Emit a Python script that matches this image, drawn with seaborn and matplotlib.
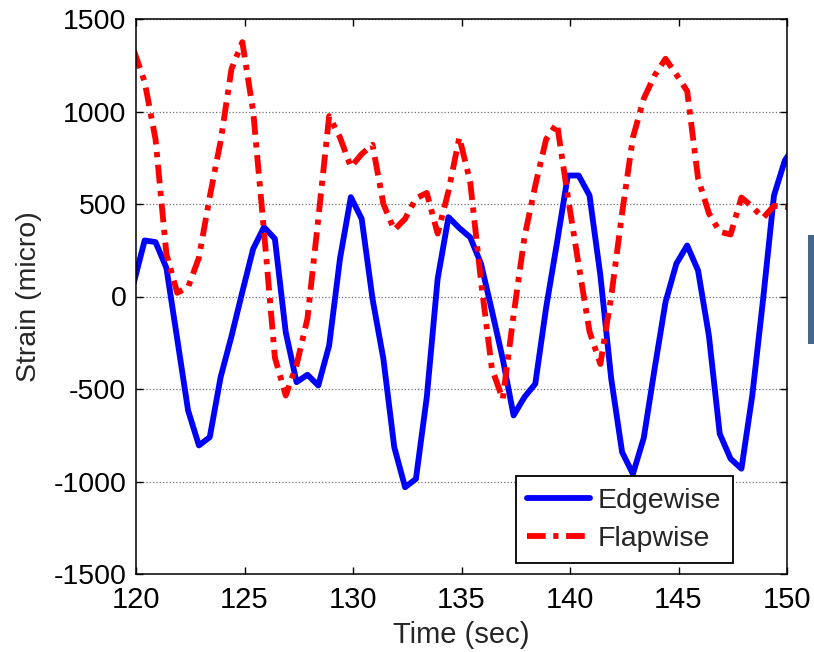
import numpy as np
import pandas as pd
import matplotlib
matplotlib.use("Agg")
import matplotlib.pyplot as plt
from matplotlib import font_manager
from matplotlib.patches import Rectangle
import seaborn as sns

# Sample times (sec)
time = [119.9, 120.4, 120.9, 121.4, 121.9, 122.4, 122.9, 123.4, 123.9, 124.4,
        124.9, 125.4, 125.9, 126.4, 126.9, 127.4, 127.9, 128.4, 128.9, 129.4,
        129.9, 130.4, 130.9, 131.4, 131.9, 132.4, 132.9, 133.4, 133.9, 134.4,
        134.9, 135.4, 135.9, 136.4, 136.9, 137.4, 137.9, 138.4, 138.9, 139.4,
        139.9, 140.4, 140.9, 141.4, 141.9, 142.4, 142.9, 143.4, 143.9, 144.4,
        144.9, 145.4, 145.9, 146.4, 146.9, 147.4, 147.9, 148.4, 148.9, 149.4,
        149.9, 150.4]

# Edgewise strain (micro)
edgewise = [75, 303, 294, 155, -230, -616, -805, -760, -436, -215,
            25, 258, 375, 312, -193, -463, -423, -481, -265, 204,
            537, 420, -13, -337, -814, -1031, -986, -544, 95, 429,
            370, 320, 177, -76, -337, -643, -544, -472, -60, 290,
            654, 654, 546, 114, -445, -841, -959, -764, -390, -31,
            177, 276, 141, -211, -742, -877, -931, -535, -13, 546,
            735, 820]

# Flapwise strain (micro)
flapwise = [1330, 1160, 850, 230, 20, 50, 210, 540, 840, 1230,
            1375, 1000, 350, -330, -535, -370, -120, 420, 975, 860,
            700, 770, 820, 500, 360, 420, 530, 560, 340, 570,
            860, 620, 80, -390, -555, -100, 320, 600, 850, 935,
            540, 170, -190, -365, 0, 450, 860, 1070, 1195, 1285,
            1200, 1110, 640, 450, 350, 335, 535, 485, 425, 490,
            485, 480]

series_names = ["Edgewise", "Flapwise"]
x_ticks = [120, 125, 130, 135, 140, 145, 150]
y_ticks = [-1500, -1000, -500, 0, 500, 1000, 1500]

df = pd.DataFrame({"Time": time, "Edgewise": edgewise, "Flapwise": flapwise})
long_df = df.melt(id_vars="Time", var_name="Signal", value_name="Strain")

sns.set_style("ticks")
plt.rcParams["font.family"] = ["Liberation Sans", "DejaVu Sans"]
plt.rcParams["axes.linewidth"] = 1.1

# Condensed face for the time axis texts, if available
installed = {f.name for f in font_manager.fontManager.ttflist}
if "Liberation Sans Narrow" in installed:
    x_font = dict(family="Liberation Sans Narrow", size=23.5)
else:
    x_font = dict(family="Liberation Sans", size=21)

fig = plt.figure(figsize=(8.14, 6.52), dpi=100)
ax = fig.add_axes([136 / 814, 1 - 574 / 652, (787 - 136) / 814, (574 - 19) / 652])

sns.lineplot(
    data=long_df, x="Time", y="Strain", hue="Signal", style="Signal",
    hue_order=series_names, style_order=series_names,
    palette={"Edgewise": "#0000ff", "Flapwise": "#ff0000"},
    dashes={"Edgewise": "", "Flapwise": (3.2, 1.3, 0.9, 1.3)},
    estimator=None, sort=False, linewidth=4.2, legend=False, ax=ax,
)
for ln in ax.get_lines():
    ln.set_solid_joinstyle("round")
    ln.set_dash_capstyle("butt")

ax.set_xlim(120, 150)
ax.set_ylim(-1500, 1500)
ax.set_xticks(x_ticks)
ax.set_yticks(y_ticks)
ax.set_xticklabels([str(v) for v in x_ticks], fontdict=x_font)
ax.set_yticklabels([str(v) for v in y_ticks])

ax.tick_params(axis="both", direction="in", length=5, width=1.0,
               top=True, right=True, colors="black")
ax.tick_params(axis="y", pad=7, labelsize=20.5)
ax.tick_params(axis="x", pad=9)
for s in ax.spines.values():
    s.set_visible(True)
    s.set_color("black")

ax.yaxis.grid(True, linestyle=":", linewidth=0.9, color="#707070")
ax.xaxis.grid(False)

ax.set_xlabel("Time (sec)", fontdict=x_font, labelpad=5)
ax.set_ylabel("Strain (micro)", fontsize=20.5, labelpad=8)

handles = ax.get_lines()[:2]
leg = ax.legend(handles, series_names, loc="lower right",
                bbox_to_anchor=((733 - 136) / 651, (574 - 563) / 555),
                borderaxespad=0, fontsize=20.5, frameon=True, fancybox=False,
                handlelength=2.2, handletextpad=0.3, borderpad=0.4,
                labelspacing=0.42)
leg.get_frame().set_edgecolor("black")
leg.get_frame().set_linewidth(1.3)
leg.get_frame().set_facecolor("white")
leg.get_frame().set_alpha(1)

# Slice of a side bar at the right edge of the page
fig.patches.append(Rectangle((808 / 814, 1 - 344 / 652), 8 / 814, (344 - 235) / 652,
                             transform=fig.transFigure, facecolor="#46668e",
                             edgecolor="none", zorder=0))

fig.savefig("out.png", dpi=100, facecolor="white")
